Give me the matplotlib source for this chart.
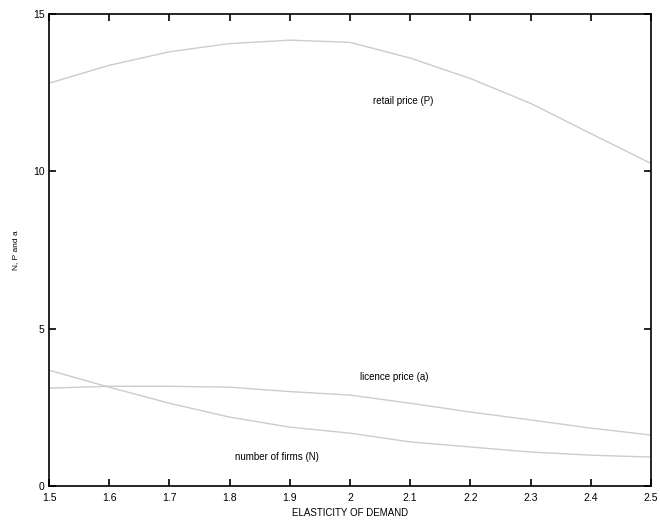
import matplotlib.pyplot as plt

plt.rcParams['font.family'] = ['Liberation Sans', 'DejaVu Sans']

# elasticity of demand
elasticity = [1.5, 1.6, 1.7, 1.8, 1.9, 2.0, 2.1, 2.2, 2.3, 2.4, 2.5]
# retail price (P)
retail_price = [12.8, 13.37, 13.8, 14.06, 14.17, 14.1, 13.6, 12.95, 12.16, 11.2, 10.25]
# licence price (a)
licence_price = [3.11, 3.17, 3.17, 3.14, 3.0, 2.89, 2.63, 2.35, 2.1, 1.84, 1.62]
# number of firms (N)
num_firms = [3.68, 3.14, 2.63, 2.19, 1.87, 1.68, 1.40, 1.24, 1.08, 0.98, 0.92]

fig = plt.figure(figsize=(6.6, 5.27), dpi=100)
ax = fig.add_axes([0.0742, 0.0778, 0.9122, 0.8956])

line_col = '#cccccc'
ax.plot(elasticity, retail_price, color=line_col, lw=1.0)
ax.plot(elasticity, licence_price, color=line_col, lw=1.0)
ax.plot(elasticity, num_firms, color=line_col, lw=1.0)

ax.text(2.038, 12.25, 'retail price (P)', fontsize=7, va='center')
ax.text(2.017, 3.46, 'licence price (a)', fontsize=7, va='center')
ax.text(1.809, 0.92, 'number of firms (N)', fontsize=7, va='center')

ax.set_xlim(1.5, 2.5)
ax.set_ylim(0, 15)
ax.set_xticks(elasticity)
ax.set_xticklabels(['1.5', '1.6', '1.7', '1.8', '1.9', '2', '2.1', '2.2', '2.3', '2.4', '2.5'])
ax.set_yticks([0, 5, 10, 15])
ax.tick_params(direction='in', top=True, right=True, labelsize=7.5, length=5, width=1.2)
ax.tick_params(axis='x', pad=5)
ax.tick_params(axis='y', pad=3)
for s in ax.spines.values():
    s.set_linewidth(1.2)

ax.set_xlabel('ELASTICITY OF DEMAND', fontsize=7, labelpad=4)
ax.set_ylabel('N, P and a', fontsize=6, labelpad=10)

fig.savefig('out.png', dpi=100)
